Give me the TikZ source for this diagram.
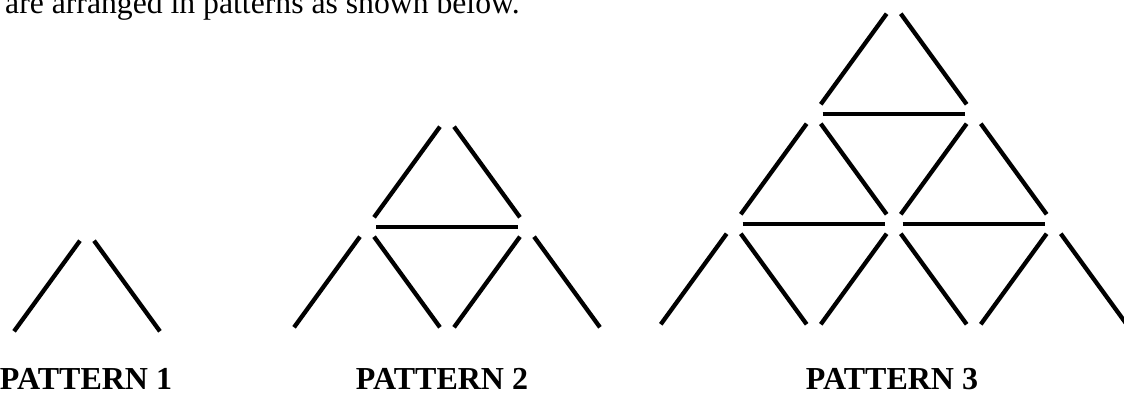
\documentclass[tikz,border=0pt]{standalone}
\usepackage{fontspec}
\setmainfont{Liberation Serif}
\usetikzlibrary{positioning}

\begin{document}
\begin{tikzpicture}[
  x=1pt, y=-1pt,
  %% ── styles ─────────────────────────────────────────────────────────
  %% Slanted matchsticks (gap at each lattice point)
  stick/.style={line width=4.3pt, black,
                shorten <=12pt, shorten >=12pt},
  %% Horizontal matchsticks
  flat/.style ={line width=4.5pt, black,
                shorten <=9pt, shorten >=9pt},
  %% Caption under each pattern
  lbl/.style  ={inner sep=0pt, anchor=base,
                font=\fontsize{32}{38}\selectfont\bfseries},
  %% Running text cut at the top
  hdr/.style  ={inner sep=0pt, anchor=base west,
                font=\fontsize{31.7}{38}\selectfont},
]
\useasboundingbox (0,0) rectangle (1124,394);

%% ════════════════════════════════════════════════════════════════════
%% LATTICE POINTS  (half-width 80, row height 110)
%% ════════════════════════════════════════════════════════════════════

%% Pattern 1 — apex at x=87
\foreach \r in {0,1}
  \foreach \c in {0,...,\r}
    \coordinate (A-\r-\c) at ({87+(2*\c-\r)*80}, {231+\r*110});

%% Pattern 2 — apex at x=447
\foreach \r in {0,1,2}
  \foreach \c in {0,...,\r}
    \coordinate (B-\r-\c) at ({447+(2*\c-\r)*80}, {117+\r*110});

%% Pattern 3 — apex at x=893.7 (right stick runs off the page)
\foreach \r in {0,1,2,3}
  \foreach \c in {0,...,\r}
    \coordinate (C-\r-\c) at ({893.7+(2*\c-\r)*80}, {4+\r*110});

%% ── header line (only its lower half is visible) ────────────────────
\node[hdr] (intro) at (5,13) {are arranged in patterns as shown below.};

%% ════════════════════════════════════════════════════════════════════
%% MATCHSTICKS
%% ════════════════════════════════════════════════════════════════════

%% Pattern 1
\foreach \a/\b in {A-0-0/A-1-0, A-0-0/A-1-1}
  \draw[stick] (\a) -- (\b);

%% Pattern 2
\foreach \a/\b in {B-0-0/B-1-0, B-0-0/B-1-1,
                   B-1-0/B-2-0, B-1-0/B-2-1, B-1-1/B-2-1, B-1-1/B-2-2}
  \draw[stick] (\a) -- (\b);
\draw[flat] (B-1-0) -- (B-1-1);

%% Pattern 3
\foreach \a/\b in {C-0-0/C-1-0, C-0-0/C-1-1,
                   C-1-0/C-2-0, C-1-0/C-2-1, C-1-1/C-2-1, C-1-1/C-2-2,
                   C-2-0/C-3-0, C-2-0/C-3-1, C-2-1/C-3-1, C-2-1/C-3-2,
                   C-2-2/C-3-2, C-2-2/C-3-3}
  \draw[stick] (\a) -- (\b);
\foreach \a/\b in {C-1-0/C-1-1, C-2-0/C-2-1, C-2-1/C-2-2}
  \draw[flat] (\a) -- (\b);

%% ── captions ────────────────────────────────────────────────────────
\node[lbl] (lab1) at (86,389)  {PATTERN 1};
\node[lbl] (lab2) at (442,389) {PATTERN 2};
\node[lbl] (lab3) at (892,389) {PATTERN 3};

\end{tikzpicture}
\end{document}
